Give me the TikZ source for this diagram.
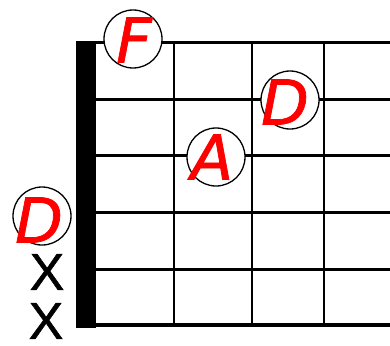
\documentclass[tikz,border=0pt]{standalone}
\usepackage{fontspec}
\usepackage{xcolor}
\newfontfamily\notefont{DejaVu Sans}[ItalicFeatures={FakeBold=1.2}]
\newfontfamily\mutefont{Liberation Sans}[FakeBold=1]

\tikzset{
  fingerdot/.style={draw,circle,line width=1.3pt,minimum size=58pt,inner sep=0pt,fill=white},
  notename/.style={text=red,font=\notefont\itshape\fontsize{62}{62}\selectfont,inner sep=0pt},
  mutemark/.style={font=\mutefont\fontsize{52}{52}\selectfont,inner sep=0pt}
}

\begin{document}
\begin{tikzpicture}[x=1pt,y=-1pt]
  \useasboundingbox (0,0) rectangle (390,345);
  \foreach \y in {43,99,155,212,269} \draw[line width=3pt] (86,\y) -- (390,\y);
  \draw[line width=4.5pt] (86,325) -- (390,325);
  \foreach \x in {174,252,324} \draw[line width=2.6pt] (\x,43) -- (\x,325);
  \fill (76,41) rectangle (96,328);
  \node[fingerdot] (f) at (133,39) {};
  \node[fingerdot] (d2) at (290,100) {};
  \node[fingerdot] (a) at (216,157) {};
  \node[fingerdot] (d1) at (42,216) {};
  \node[notename] at (134,40) {F};
  \node[notename] at (285,102) {D};
  \node[notename] at (212,157) {A};
  \node[notename] at (39,220) {D};
  \node[mutemark] (x1) at (47,272) {X};
  \node[mutemark] (x2) at (46,321) {X};
\end{tikzpicture}
\end{document}
